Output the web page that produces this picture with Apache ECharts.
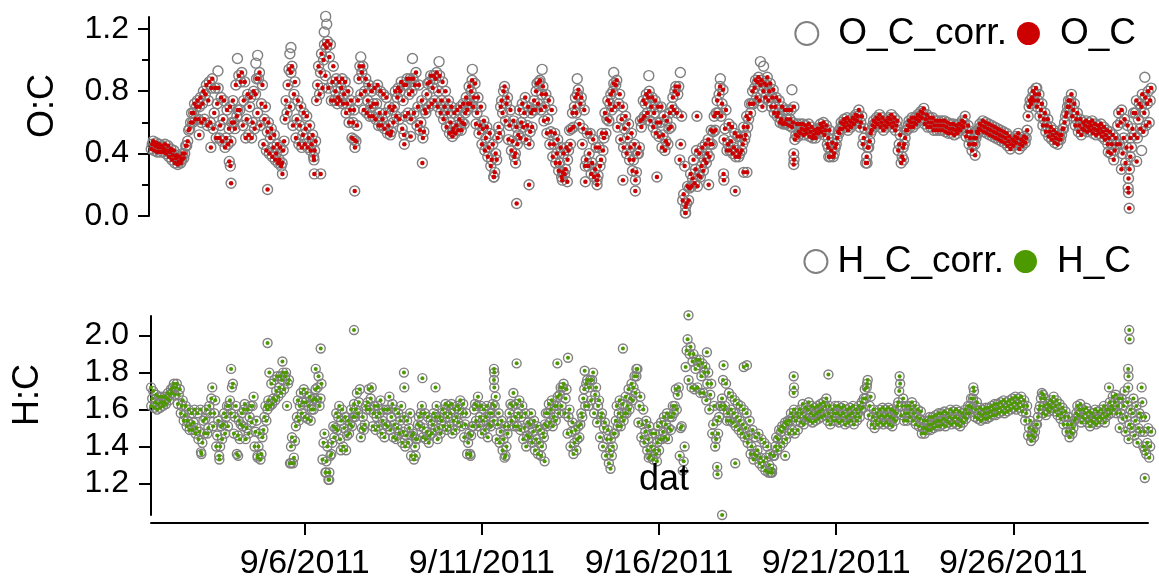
<!DOCTYPE html>
<html>
<head>
<meta charset="utf-8">
<script src="https://cdn.jsdelivr.net/npm/echarts@6/dist/echarts.min.js"></script>
<style>
  html, body { margin: 0; padding: 0; background: #fff; }
  #chart { width: 1159px; height: 582px; }
</style>
</head>
<body>
<div id="chart"></div>
<script>
// time is "day of September 2011" (6.5 = 9/6 12:00)
const START_DAY = 1 + 16 / 24; // first sample 9/1 16:00
const STEP = 2 / 24;           // one reading every 2 hours

// O:C, every 2 h, one row per day: low edge, typical value, high edge of the scatter
const ocLow = [
  0.43, 0.42, 0.41, 0.41, // 9/1 from 16:00
  0.41, 0.40, 0.38, 0.36, 0.34, 0.33, 0.34, 0.37, 0.45, 0.56, 0.60, 0.62, // 9/2
  0.62, 0.60, 0.62, 0.58, 0.60, 0.56, 0.50, 0.50, 0.48, 0.44, 0.46, 0.48, // 9/3
  0.60, 0.64, 0.68, 0.58, 0.50, 0.52, 0.50, 0.56, 0.66, 0.58, 0.46, 0.42, // 9/4
  0.40, 0.38, 0.36, 0.34, 0.32, 0.48, 0.66, 0.70, 0.58, 0.50, 0.46, 0.44, // 9/5
  0.46, 0.44, 0.42, 0.38, 0.74, 0.78, 0.82, 0.90, 0.82, 0.74, 0.74, 0.72, // 9/6
  0.74, 0.72, 0.66, 0.60, 0.50, 0.44, 0.74, 0.78, 0.68, 0.66, 0.64, 0.64, // 9/7
  0.62, 0.58, 0.58, 0.56, 0.53, 0.52, 0.60, 0.64, 0.62, 0.56, 0.64, 0.66, // 9/8
  0.62, 0.66, 0.58, 0.55, 0.50, 0.66, 0.70, 0.72, 0.74, 0.70, 0.66, 0.62, // 9/9
  0.57, 0.53, 0.51, 0.53, 0.55, 0.55, 0.59, 0.68, 0.72, 0.70, 0.59, 0.53, // 9/10
  0.46, 0.42, 0.38, 0.32, 0.25, 0.36, 0.53, 0.66, 0.61, 0.49, 0.42, 0.38, // 9/11
  0.46, 0.50, 0.57, 0.49, 0.46, 0.57, 0.68, 0.72, 0.68, 0.61, 0.53, 0.46, // 9/12
  0.38, 0.34, 0.29, 0.25, 0.27, 0.36, 0.46, 0.57, 0.66, 0.59, 0.46, 0.32, // 9/13
  0.32, 0.27, 0.25, 0.23, 0.32, 0.42, 0.53, 0.61, 0.68, 0.70, 0.57, 0.49, // 9/14
  0.44, 0.40, 0.36, 0.29, 0.23, 0.40, 0.57, 0.64, 0.66, 0.61, 0.57, 0.53, // 9/15
  0.51, 0.44, 0.42, 0.46, 0.57, 0.68, 0.66, 0.36, 0.10, 0.02, 0.10, 0.19, // 9/16
  0.21, 0.19, 0.25, 0.29, 0.34, 0.38, 0.46, 0.55, 0.66, 0.64, 0.49, 0.42, // 9/17
  0.42, 0.40, 0.38, 0.38, 0.42, 0.49, 0.57, 0.66, 0.72, 0.76, 0.74, 0.70, // 9/18
  0.76, 0.74, 0.70, 0.66, 0.64, 0.60, 0.59, 0.59, 0.58, 0.57, 0.49, 0.51, // 9/19
  0.53, 0.52, 0.53, 0.51, 0.50, 0.50, 0.53, 0.54, 0.52, 0.46, 0.38, 0.38, // 9/20
  0.46, 0.53, 0.56, 0.57, 0.55, 0.57, 0.59, 0.61, 0.57, 0.46, 0.34, 0.44, // 9/21
  0.55, 0.57, 0.59, 0.57, 0.55, 0.57, 0.59, 0.57, 0.55, 0.42, 0.34, 0.46, // 9/22
  0.55, 0.57, 0.57, 0.59, 0.61, 0.63, 0.59, 0.57, 0.57, 0.55, 0.55, 0.55, // 9/23
  0.55, 0.54, 0.53, 0.53, 0.52, 0.53, 0.55, 0.57, 0.51, 0.46, 0.42, 0.46, // 9/24
  0.53, 0.55, 0.54, 0.53, 0.52, 0.51, 0.50, 0.49, 0.48, 0.47, 0.45, 0.43, // 9/25
  0.45, 0.47, 0.43, 0.45, 0.47, 0.64, 0.72, 0.74, 0.70, 0.64, 0.58, 0.54, // 9/26
  0.51, 0.49, 0.47, 0.46, 0.49, 0.56, 0.66, 0.70, 0.64, 0.58, 0.54, 0.52, // 9/27
  0.55, 0.54, 0.55, 0.53, 0.52, 0.53, 0.51, 0.49, 0.46, 0.40, 0.36, 0.46, // 9/28
  0.46, 0.40, 0.34, 0.24, 0.44, 0.52, 0.50, 0.56, 0.54, 0.58, 0.60        // 9/29 to 20:00
];
const ocValues = [
  0.46, 0.45, 0.44, 0.44,
  0.43, 0.42, 0.41, 0.39, 0.37, 0.35, 0.36, 0.40, 0.48, 0.60, 0.66, 0.70,
  0.70, 0.72, 0.78, 0.74, 0.82, 0.66, 0.72, 0.58, 0.62, 0.50, 0.56, 0.60,
  0.56, 0.68, 0.86, 0.74, 0.62, 0.70, 0.60, 0.78, 0.88, 0.72, 0.62, 0.54,
  0.50, 0.44, 0.40, 0.36, 0.34, 0.62, 0.84, 0.92, 0.78, 0.62, 0.58, 0.52,
  0.56, 0.50, 0.46, 0.42, 0.84, 0.92, 1.00, 1.08, 1.02, 0.86, 0.80, 0.76,
  0.82, 0.78, 0.72, 0.68, 0.60, 0.48, 0.88, 0.92, 0.80, 0.74, 0.70, 0.72,
  0.72, 0.66, 0.62, 0.66, 0.58, 0.54, 0.70, 0.76, 0.80, 0.74, 0.84, 0.78,
  0.80, 0.84, 0.70, 0.60, 0.54, 0.78, 0.86, 0.82, 0.88, 0.80, 0.74, 0.70,
  0.66, 0.60, 0.56, 0.58, 0.62, 0.60, 0.66, 0.72, 0.80, 0.76, 0.66, 0.58,
  0.56, 0.50, 0.44, 0.36, 0.28, 0.50, 0.70, 0.80, 0.72, 0.58, 0.48, 0.40,
  0.52, 0.60, 0.66, 0.58, 0.54, 0.68, 0.80, 0.86, 0.78, 0.70, 0.62, 0.54,
  0.46, 0.40, 0.34, 0.28, 0.30, 0.42, 0.56, 0.70, 0.78, 0.72, 0.56, 0.36,
  0.40, 0.34, 0.30, 0.26, 0.36, 0.50, 0.62, 0.72, 0.80, 0.84, 0.72, 0.62,
  0.56, 0.50, 0.44, 0.36, 0.28, 0.44, 0.62, 0.72, 0.76, 0.70, 0.66, 0.60,
  0.60, 0.52, 0.48, 0.56, 0.70, 0.80, 0.78, 0.46, 0.14, 0.08, 0.18, 0.24,
  0.30, 0.26, 0.32, 0.36, 0.40, 0.46, 0.54, 0.66, 0.78, 0.72, 0.56, 0.46,
  0.48, 0.44, 0.42, 0.40, 0.46, 0.52, 0.62, 0.72, 0.82, 0.86, 0.84, 0.80,
  0.84, 0.80, 0.76, 0.70, 0.66, 0.62, 0.60, 0.62, 0.62, 0.60, 0.52, 0.54,
  0.56, 0.55, 0.56, 0.54, 0.52, 0.53, 0.56, 0.57, 0.55, 0.50, 0.42, 0.40,
  0.50, 0.56, 0.59, 0.60, 0.58, 0.60, 0.62, 0.64, 0.60, 0.50, 0.38, 0.48,
  0.58, 0.60, 0.62, 0.60, 0.58, 0.60, 0.62, 0.60, 0.58, 0.46, 0.38, 0.50,
  0.58, 0.60, 0.60, 0.62, 0.64, 0.66, 0.62, 0.60, 0.60, 0.58, 0.58, 0.58,
  0.58, 0.57, 0.56, 0.56, 0.55, 0.56, 0.58, 0.60, 0.54, 0.50, 0.46, 0.50,
  0.56, 0.58, 0.57, 0.56, 0.55, 0.54, 0.53, 0.52, 0.51, 0.50, 0.48, 0.46,
  0.48, 0.50, 0.46, 0.48, 0.50, 0.70, 0.76, 0.78, 0.74, 0.68, 0.62, 0.58,
  0.54, 0.52, 0.50, 0.49, 0.52, 0.60, 0.70, 0.74, 0.68, 0.62, 0.58, 0.56,
  0.58, 0.57, 0.58, 0.56, 0.55, 0.56, 0.54, 0.52, 0.50, 0.46, 0.42, 0.58,
  0.60, 0.50, 0.44, 0.30, 0.56, 0.66, 0.62, 0.70, 0.66, 0.72, 0.74
];
const ocHigh = [
  0.48, 0.47, 0.46, 0.45,
  0.46, 0.45, 0.43, 0.42, 0.39, 0.38, 0.40, 0.45, 0.55, 0.66, 0.72, 0.74,
  0.76, 0.80, 0.84, 0.86, 0.88, 0.82, 0.82, 0.76, 0.74, 0.68, 0.70, 0.74,
  0.84, 0.90, 0.92, 0.86, 0.78, 0.76, 0.80, 0.88, 0.92, 0.84, 0.70, 0.60,
  0.56, 0.52, 0.46, 0.44, 0.42, 0.74, 0.94, 0.96, 0.86, 0.74, 0.70, 0.66,
  0.64, 0.58, 0.52, 0.48, 0.96, 1.04, 1.10, 1.12, 1.10, 0.96, 0.88, 0.86,
  0.88, 0.86, 0.80, 0.74, 0.68, 0.58, 0.96, 0.96, 0.88, 0.84, 0.80, 0.82,
  0.84, 0.80, 0.78, 0.76, 0.70, 0.68, 0.80, 0.82, 0.86, 0.84, 0.88, 0.88,
  0.88, 0.92, 0.84, 0.74, 0.68, 0.85, 0.90, 0.90, 0.92, 0.90, 0.86, 0.80,
  0.74, 0.70, 0.66, 0.68, 0.70, 0.72, 0.76, 0.83, 0.87, 0.85, 0.76, 0.70,
  0.61, 0.57, 0.53, 0.46, 0.40, 0.57, 0.74, 0.83, 0.76, 0.68, 0.61, 0.57,
  0.68, 0.72, 0.76, 0.70, 0.66, 0.74, 0.85, 0.87, 0.83, 0.78, 0.74, 0.68,
  0.53, 0.49, 0.44, 0.40, 0.44, 0.55, 0.66, 0.76, 0.81, 0.76, 0.68, 0.53,
  0.53, 0.49, 0.44, 0.44, 0.53, 0.66, 0.74, 0.78, 0.85, 0.87, 0.78, 0.70,
  0.64, 0.59, 0.53, 0.46, 0.40, 0.61, 0.74, 0.78, 0.80, 0.76, 0.74, 0.70,
  0.70, 0.64, 0.61, 0.66, 0.76, 0.83, 0.83, 0.64, 0.32, 0.19, 0.27, 0.36,
  0.42, 0.40, 0.44, 0.46, 0.49, 0.55, 0.64, 0.74, 0.83, 0.81, 0.68, 0.59,
  0.57, 0.53, 0.51, 0.51, 0.57, 0.64, 0.72, 0.80, 0.87, 0.89, 0.87, 0.85,
  0.89, 0.85, 0.81, 0.76, 0.74, 0.70, 0.68, 0.68, 0.68, 0.70, 0.59, 0.59,
  0.59, 0.58, 0.59, 0.57, 0.55, 0.56, 0.59, 0.60, 0.58, 0.55, 0.47, 0.44,
  0.54, 0.60, 0.62, 0.63, 0.61, 0.63, 0.65, 0.68, 0.64, 0.56, 0.44, 0.53,
  0.61, 0.63, 0.65, 0.63, 0.61, 0.63, 0.65, 0.63, 0.61, 0.52, 0.44, 0.55,
  0.61, 0.63, 0.63, 0.65, 0.67, 0.69, 0.65, 0.63, 0.63, 0.61, 0.61, 0.61,
  0.61, 0.60, 0.59, 0.59, 0.58, 0.59, 0.61, 0.64, 0.58, 0.54, 0.50, 0.54,
  0.59, 0.61, 0.60, 0.59, 0.58, 0.57, 0.56, 0.55, 0.54, 0.53, 0.51, 0.49,
  0.51, 0.53, 0.49, 0.51, 0.55, 0.74, 0.80, 0.82, 0.78, 0.72, 0.66, 0.62,
  0.57, 0.55, 0.53, 0.52, 0.56, 0.64, 0.74, 0.78, 0.72, 0.66, 0.62, 0.60,
  0.61, 0.60, 0.61, 0.59, 0.58, 0.59, 0.57, 0.55, 0.54, 0.52, 0.50, 0.66,
  0.68, 0.62, 0.58, 0.50, 0.66, 0.74, 0.72, 0.78, 0.76, 0.80, 0.82
];

// isolated O:C points [day, value]
const ocOutliers = [
  [3.02, 0.52], [3.35, 0.44], [3.87, 0.35], [3.90, 0.32], [3.92, 0.21], [4.95, 0.17],
  [5.37, 0.27], [6.26, 0.36], [6.27, 0.27], [6.45, 0.27], [7.41, 0.16], [7.39, 0.49],
  [8.80, 0.52], [8.81, 0.46], [8.99, 0.51], [9.32, 0.34], [10.17, 0.54], [11.34, 0.25],
  [11.95, 0.34], [11.98, 0.08], [12.33, 0.20], [13.27, 0.23], [13.41, 0.22], [13.92, 0.22],
  [14.25, 0.20], [14.98, 0.23], [15.33, 0.16], [15.94, 0.25], [16.74, 0.02], [16.75, 0.06],
  [17.07, 0.64], [17.40, 0.20], [17.82, 0.27], [17.83, 0.23], [18.15, 0.16], [18.39, 0.28],
  [18.48, 0.28], [19.80, 0.40], [19.81, 0.36], [19.80, 0.33], [20.78, 0.44], [20.79, 0.38],
  [21.87, 0.34], [22.90, 0.36], [24.92, 0.39], [28.68, 0.41], [29.05, 0.30], [29.24, 0.18],
  [29.25, 0.15], [29.27, 0.05], [29.48, 0.35], [29.30, 0.38]
];

// corrected O:C points that stand above the uncorrected ones
const ocCorrHigh = [
  [3.55, 0.93], [4.10, 1.01], [4.62, 0.98], [4.67, 1.03], [5.58, 1.04], [5.61, 1.08],
  [6.55, 1.18], [6.59, 1.28], [6.62, 1.23], [7.58, 1.02], [9.04, 1.01], [9.79, 0.99],
  [10.73, 0.94], [12.70, 0.94], [13.69, 0.88], [14.72, 0.92], [15.71, 0.90], [16.60, 0.92],
  [17.73, 0.88], [18.86, 0.99], [18.95, 0.96], [19.75, 0.81], [26.66, 0.82], [29.71, 0.89],
  [29.62, 0.42]
];

// H:C, every 2 h, one row per day: low edge, typical value, high edge
const hcLow = [
  1.62, 1.61, 1.60, 1.61, // 9/1 from 16:00
  1.62, 1.63, 1.65, 1.69, 1.68, 1.63, 1.58, 1.54, 1.51, 1.49, 1.49, 1.47, // 9/2
  1.44, 1.36, 1.47, 1.47, 1.58, 1.51, 1.40, 1.35, 1.44, 1.47, 1.51, 1.58, // 9/3
  1.47, 1.36, 1.44, 1.51, 1.44, 1.47, 1.53, 1.40, 1.35, 1.33, 1.49, 1.54, // 9/4
  1.62, 1.63, 1.65, 1.67, 1.69, 1.71, 1.62, 1.31, 1.31, 1.51, 1.54, 1.58, // 9/5
  1.56, 1.55, 1.54, 1.60, 1.65, 1.62, 1.33, 1.26, 1.22, 1.36, 1.45, 1.49, // 9/6
  1.44, 1.40, 1.38, 1.47, 1.51, 1.56, 1.58, 1.45, 1.49, 1.60, 1.60, 1.51, // 9/7
  1.49, 1.51, 1.47, 1.45, 1.51, 1.49, 1.45, 1.44, 1.47, 1.42, 1.40, 1.42, // 9/8
  1.35, 1.33, 1.44, 1.51, 1.45, 1.44, 1.42, 1.47, 1.49, 1.44, 1.47, 1.51, // 9/9
  1.49, 1.51, 1.47, 1.49, 1.53, 1.51, 1.45, 1.36, 1.36, 1.51, 1.54, 1.51, // 9/10
  1.47, 1.49, 1.45, 1.51, 1.54, 1.44, 1.42, 1.38, 1.35, 1.51, 1.54, 1.51, // 9/11
  1.51, 1.49, 1.44, 1.40, 1.45, 1.42, 1.38, 1.36, 1.35, 1.45, 1.51, 1.53, // 9/12
  1.51, 1.54, 1.58, 1.62, 1.58, 1.47, 1.40, 1.36, 1.38, 1.45, 1.56, 1.62, // 9/13
  1.62, 1.65, 1.58, 1.53, 1.45, 1.40, 1.35, 1.31, 1.35, 1.47, 1.51, 1.51, // 9/14
  1.54, 1.58, 1.60, 1.65, 1.69, 1.53, 1.45, 1.42, 1.38, 1.35, 1.33, 1.36, // 9/15
  1.38, 1.44, 1.45, 1.44, 1.49, 1.58, 1.60, 1.35, 1.27, 1.83, 1.76, 1.72, // 9/16
  1.71, 1.72, 1.69, 1.69, 1.65, 1.60, 1.47, 1.40, 1.47, 1.62, 1.60, 1.54, // 9/17
  1.54, 1.53, 1.51, 1.49, 1.47, 1.45, 1.42, 1.36, 1.33, 1.35, 1.31, 1.29, // 9/18
  1.27, 1.26, 1.26, 1.35, 1.38, 1.40, 1.42, 1.44, 1.47, 1.49, 1.47, 1.49, // 9/19
  1.53, 1.52, 1.55, 1.54, 1.53, 1.54, 1.55, 1.56, 1.57, 1.54, 1.52, 1.54, // 9/20
  1.54, 1.53, 1.54, 1.52, 1.53, 1.54, 1.52, 1.54, 1.56, 1.61, 1.66, 1.57, // 9/21
  1.52, 1.50, 1.52, 1.53, 1.52, 1.53, 1.52, 1.51, 1.54, 1.64, 1.57, 1.54, // 9/22
  1.54, 1.56, 1.54, 1.52, 1.51, 1.47, 1.47, 1.49, 1.49, 1.50, 1.51, 1.51, // 9/23
  1.52, 1.51, 1.53, 1.52, 1.53, 1.52, 1.51, 1.53, 1.55, 1.58, 1.61, 1.56, // 9/24
  1.55, 1.54, 1.55, 1.55, 1.56, 1.57, 1.57, 1.58, 1.59, 1.58, 1.59, 1.60, // 9/25
  1.61, 1.60, 1.61, 1.59, 1.54, 1.46, 1.43, 1.45, 1.52, 1.62, 1.58, 1.57, // 9/26
  1.59, 1.61, 1.59, 1.57, 1.55, 1.52, 1.48, 1.45, 1.47, 1.55, 1.57, 1.53, // 9/27
  1.55, 1.53, 1.51, 1.53, 1.52, 1.53, 1.55, 1.53, 1.57, 1.58, 1.60, 1.58, // 9/28
  1.50, 1.55, 1.48, 1.44, 1.50, 1.46, 1.42, 1.48, 1.40, 1.36, 1.34        // 9/29 to 20:00
];
const hcValues = [
  1.66, 1.64, 1.63, 1.64,
  1.64, 1.66, 1.68, 1.72, 1.72, 1.68, 1.62, 1.57, 1.54, 1.52, 1.53, 1.50,
  1.48, 1.42, 1.55, 1.50, 1.66, 1.58, 1.46, 1.40, 1.52, 1.56, 1.62, 1.72,
  1.56, 1.46, 1.52, 1.60, 1.50, 1.56, 1.62, 1.48, 1.40, 1.36, 1.56, 1.60,
  1.62, 1.66, 1.70, 1.72, 1.76, 1.78, 1.74, 1.40, 1.34, 1.56, 1.62, 1.64,
  1.64, 1.62, 1.60, 1.66, 1.72, 1.66, 1.42, 1.32, 1.26, 1.42, 1.50, 1.56,
  1.54, 1.50, 1.46, 1.52, 1.56, 1.60, 1.64, 1.50, 1.52, 1.64, 1.66, 1.58,
  1.56, 1.58, 1.54, 1.52, 1.60, 1.56, 1.52, 1.50, 1.54, 1.48, 1.46, 1.50,
  1.46, 1.40, 1.52, 1.58, 1.50, 1.48, 1.46, 1.52, 1.56, 1.50, 1.54, 1.58,
  1.56, 1.58, 1.54, 1.56, 1.60, 1.58, 1.52, 1.42, 1.46, 1.60, 1.62, 1.56,
  1.54, 1.56, 1.52, 1.58, 1.62, 1.52, 1.48, 1.44, 1.40, 1.58, 1.62, 1.56,
  1.58, 1.56, 1.50, 1.46, 1.52, 1.48, 1.44, 1.42, 1.40, 1.52, 1.58, 1.60,
  1.56, 1.62, 1.68, 1.72, 1.66, 1.56, 1.48, 1.42, 1.44, 1.52, 1.66, 1.74,
  1.72, 1.76, 1.68, 1.62, 1.56, 1.50, 1.44, 1.38, 1.40, 1.54, 1.58, 1.56,
  1.58, 1.62, 1.66, 1.72, 1.78, 1.62, 1.52, 1.48, 1.44, 1.40, 1.38, 1.42,
  1.44, 1.48, 1.52, 1.50, 1.56, 1.62, 1.68, 1.50, 1.32, 1.92, 1.90, 1.86,
  1.82, 1.84, 1.78, 1.80, 1.74, 1.68, 1.52, 1.44, 1.56, 1.66, 1.62, 1.58,
  1.60, 1.58, 1.56, 1.54, 1.52, 1.50, 1.46, 1.40, 1.36, 1.38, 1.34, 1.32,
  1.34, 1.30, 1.28, 1.40, 1.44, 1.48, 1.50, 1.52, 1.54, 1.56, 1.54, 1.56,
  1.58, 1.56, 1.60, 1.58, 1.57, 1.58, 1.59, 1.60, 1.62, 1.58, 1.56, 1.58,
  1.58, 1.57, 1.58, 1.56, 1.57, 1.58, 1.56, 1.58, 1.60, 1.66, 1.72, 1.62,
  1.56, 1.54, 1.56, 1.57, 1.56, 1.57, 1.56, 1.55, 1.58, 1.70, 1.62, 1.58,
  1.58, 1.60, 1.58, 1.56, 1.55, 1.50, 1.50, 1.52, 1.52, 1.53, 1.54, 1.54,
  1.55, 1.54, 1.56, 1.55, 1.56, 1.55, 1.54, 1.56, 1.58, 1.62, 1.66, 1.60,
  1.58, 1.57, 1.58, 1.58, 1.59, 1.60, 1.60, 1.61, 1.62, 1.61, 1.62, 1.63,
  1.64, 1.63, 1.64, 1.62, 1.58, 1.50, 1.46, 1.48, 1.56, 1.66, 1.62, 1.60,
  1.62, 1.64, 1.62, 1.60, 1.58, 1.56, 1.52, 1.48, 1.50, 1.58, 1.60, 1.56,
  1.58, 1.56, 1.54, 1.56, 1.55, 1.56, 1.58, 1.56, 1.60, 1.62, 1.64, 1.62,
  1.58, 1.62, 1.56, 1.52, 1.58, 1.54, 1.50, 1.56, 1.48, 1.42, 1.40
];
const hcHigh = [
  1.70, 1.68, 1.67, 1.67,
  1.67, 1.69, 1.71, 1.74, 1.74, 1.71, 1.65, 1.62, 1.60, 1.58, 1.60, 1.58,
  1.60, 1.54, 1.60, 1.62, 1.72, 1.65, 1.54, 1.51, 1.58, 1.62, 1.65, 1.74,
  1.62, 1.54, 1.58, 1.63, 1.60, 1.62, 1.67, 1.54, 1.47, 1.45, 1.62, 1.65,
  1.74, 1.76, 1.78, 1.78, 1.80, 1.80, 1.76, 1.45, 1.43, 1.65, 1.69, 1.71,
  1.69, 1.67, 1.65, 1.71, 1.78, 1.74, 1.47, 1.40, 1.35, 1.51, 1.58, 1.62,
  1.60, 1.56, 1.54, 1.60, 1.63, 1.69, 1.71, 1.56, 1.62, 1.71, 1.72, 1.62,
  1.62, 1.65, 1.60, 1.60, 1.67, 1.63, 1.60, 1.58, 1.62, 1.56, 1.54, 1.58,
  1.47, 1.44, 1.56, 1.62, 1.58, 1.56, 1.54, 1.58, 1.62, 1.56, 1.60, 1.63,
  1.62, 1.63, 1.60, 1.62, 1.65, 1.63, 1.58, 1.47, 1.51, 1.63, 1.67, 1.62,
  1.60, 1.62, 1.58, 1.63, 1.67, 1.58, 1.54, 1.51, 1.47, 1.63, 1.69, 1.63,
  1.65, 1.62, 1.58, 1.53, 1.58, 1.54, 1.51, 1.49, 1.47, 1.58, 1.63, 1.65,
  1.62, 1.67, 1.72, 1.74, 1.71, 1.60, 1.53, 1.49, 1.51, 1.58, 1.71, 1.76,
  1.76, 1.80, 1.72, 1.65, 1.58, 1.53, 1.49, 1.44, 1.47, 1.62, 1.65, 1.63,
  1.67, 1.71, 1.74, 1.78, 1.82, 1.67, 1.60, 1.54, 1.51, 1.47, 1.47, 1.51,
  1.53, 1.56, 1.58, 1.56, 1.62, 1.71, 1.72, 1.51, 1.40, 1.98, 1.94, 1.90,
  1.87, 1.87, 1.85, 1.83, 1.80, 1.74, 1.62, 1.54, 1.62, 1.76, 1.74, 1.69,
  1.67, 1.65, 1.63, 1.62, 1.60, 1.58, 1.54, 1.49, 1.45, 1.47, 1.44, 1.42,
  1.40, 1.36, 1.35, 1.45, 1.49, 1.51, 1.53, 1.54, 1.58, 1.60, 1.58, 1.60,
  1.63, 1.61, 1.64, 1.62, 1.61, 1.62, 1.63, 1.64, 1.66, 1.62, 1.60, 1.62,
  1.62, 1.61, 1.62, 1.60, 1.61, 1.62, 1.60, 1.62, 1.64, 1.71, 1.76, 1.67,
  1.60, 1.58, 1.60, 1.61, 1.60, 1.61, 1.60, 1.59, 1.62, 1.74, 1.66, 1.62,
  1.62, 1.64, 1.62, 1.60, 1.59, 1.54, 1.54, 1.56, 1.56, 1.57, 1.58, 1.58,
  1.59, 1.58, 1.60, 1.59, 1.60, 1.59, 1.58, 1.60, 1.62, 1.66, 1.70, 1.64,
  1.61, 1.60, 1.61, 1.61, 1.62, 1.63, 1.63, 1.64, 1.65, 1.64, 1.65, 1.66,
  1.67, 1.66, 1.67, 1.65, 1.62, 1.54, 1.49, 1.52, 1.60, 1.69, 1.66, 1.63,
  1.65, 1.67, 1.65, 1.63, 1.61, 1.59, 1.56, 1.52, 1.54, 1.62, 1.63, 1.60,
  1.61, 1.59, 1.58, 1.60, 1.59, 1.60, 1.62, 1.60, 1.64, 1.67, 1.68, 1.66,
  1.66, 1.70, 1.64, 1.60, 1.66, 1.62, 1.58, 1.64, 1.56, 1.50, 1.48
];

// isolated H:C points [day, value]
const hcOutliers = [
  [1.66, 1.72], [3.07, 1.37], [3.59, 1.33], [3.92, 1.82], [4.12, 1.35], [4.67, 1.34],
  [4.95, 1.96], [5.00, 1.80], [5.37, 1.86], [5.61, 1.31], [6.31, 1.82], [6.45, 1.93],
  [6.60, 1.26], [6.69, 1.22], [7.02, 1.38], [7.39, 2.03], [8.80, 1.80], [8.81, 1.72],
  [9.13, 1.35], [9.32, 1.77], [9.69, 1.72], [10.68, 1.35], [11.34, 1.82], [11.35, 1.80],
  [11.34, 1.76], [11.35, 1.72], [11.64, 1.34], [11.98, 1.85], [12.77, 1.32], [13.13, 1.85],
  [13.43, 1.88], [13.90, 1.81], [14.63, 1.28], [14.98, 1.93], [15.36, 1.82], [15.71, 1.34],
  [15.94, 1.32], [16.83, 2.11], [17.35, 1.91], [17.64, 1.29], [17.65, 1.25], [17.78, 1.03],
  [17.82, 1.84], [18.15, 1.31], [18.39, 1.83], [18.48, 1.84], [19.14, 1.26], [19.19, 1.26],
  [19.56, 1.35], [19.80, 1.78], [19.81, 1.72], [19.80, 1.69], [20.78, 1.79], [21.87, 1.74],
  [22.79, 1.78], [24.87, 1.72], [26.84, 1.68], [28.70, 1.72], [29.27, 2.03], [29.28, 1.98],
  [29.24, 1.82], [29.25, 1.78], [29.24, 1.72], [29.62, 1.72], [29.71, 1.23], [29.71, 1.38]
];

const dayTicks = [6, 11, 16, 21, 26];
const ocTicks = [0, 0.4, 0.8, 1.2];
const ocMinorTicks = [0.2, 0.6, 1.0];
const hcTicks = [1.2, 1.4, 1.6, 1.8, 2.0];

const FONT = "Liberation Sans, Arial, sans-serif";
const GRAY = "#808080";
const RED = "#cc0000";
const GREEN = "#4c9900";

// the three readings of each 2-hour slot sit at start, +40 min and +80 min
function timed(low, mid, high) {
  const out = [];
  for (let i = 0; i < mid.length; i++) {
    const t = START_DAY + i * STEP;
    out.push([t, low[i]], [t + STEP / 3, mid[i]], [t + 2 * STEP / 3, high[i]]);
  }
  return out;
}

const ocData = timed(ocLow, ocValues, ocHigh).concat(ocOutliers);
const ocCorrData = ocData.concat(ocCorrHigh);
const hcData = timed(hcLow, hcValues, hcHigh).concat(hcOutliers);

const chart = echarts.init(document.getElementById("chart"), null, { renderer: "canvas" });

const black = { color: "#000", width: 2 };
const legendText = (pad) => ({ fontSize: 37, fontFamily: FONT, color: "#000", padding: [0, 0, 0, pad] });
const ring = { color: "rgba(255,255,255,0)", borderColor: GRAY, borderWidth: 1.4, opacity: 1 };

const option = {
  animation: false,
  backgroundColor: "#fff",
  grid: [
    { left: 151, right: 11, top: 17, height: 199 },
    { left: 151, right: 11, top: 316, height: 199 }
  ],
  xAxis: [
    { gridIndex: 0, type: "value", min: 1.66, max: 29.8, show: false },
    {
      gridIndex: 1, type: "value", min: 1.66, max: 29.8, offset: 8,
      axisLine: { lineStyle: black },
      axisTick: { customValues: dayTicks, length: 12, lineStyle: black },
      axisLabel: {
        customValues: dayTicks, margin: 24, fontSize: 34, fontFamily: FONT, color: "#000",
        formatter: (v) => "9/" + v + "/2011"
      },
      splitLine: { show: false }
    }
  ],
  yAxis: [
    {
      gridIndex: 0, type: "value", position: "left", min: 0, max: 1.276, offset: 2,
      axisLine: { show: true, lineStyle: black },
      axisTick: { show: true, customValues: ocTicks, length: 11, lineStyle: black },
      axisLabel: {
        customValues: ocTicks, margin: 20, fontSize: 32, fontFamily: FONT, color: "#000",
        formatter: (v) => v.toFixed(1)
      },
      splitLine: { show: false }
    },
    {
      gridIndex: 0, type: "value", position: "left", min: 0, max: 1.276, offset: 2,
      axisLine: { show: false },
      axisTick: { show: true, customValues: ocMinorTicks, length: 7, lineStyle: black },
      axisLabel: { show: false },
      splitLine: { show: false }
    },
    {
      gridIndex: 1, type: "value", position: "left", min: 1.03, max: 2.106,
      axisLine: { show: true, lineStyle: black },
      axisTick: { show: true, customValues: hcTicks, length: 12, lineStyle: black },
      axisLabel: {
        customValues: hcTicks, margin: 22, fontSize: 32, fontFamily: FONT, color: "#000",
        formatter: (v) => v.toFixed(1)
      },
      splitLine: { show: false }
    }
  ],
  legend: [
    {
      data: [
        { name: "O_C_corr.", textStyle: legendText(15) },
        { name: "O_C", textStyle: legendText(15) }
      ],
      right: 18, top: 10, icon: "circle", itemWidth: 23, itemHeight: 23, itemGap: 10,
      textStyle: legendText(15)
    },
    {
      data: [
        { name: "H_C_corr.", textStyle: legendText(5) },
        { name: "H_C", textStyle: legendText(15) }
      ],
      right: 23, top: 238, icon: "circle", itemWidth: 23, itemHeight: 23, itemGap: 10,
      textStyle: legendText(5)
    }
  ],
  series: [
    {
      name: "O_C_corr.", type: "scatter", xAxisIndex: 0, yAxisIndex: 0, clip: false,
      symbol: "circle", symbolSize: 10, data: ocCorrData, itemStyle: ring
    },
    {
      name: "O_C", type: "scatter", xAxisIndex: 0, yAxisIndex: 0, clip: false,
      symbol: "circle", symbolSize: 4.5, data: ocData, z: 3,
      itemStyle: { color: RED, opacity: 1 }
    },
    {
      name: "H_C_corr.", type: "scatter", xAxisIndex: 1, yAxisIndex: 2, clip: false,
      symbol: "circle", symbolSize: 9, data: hcData, itemStyle: ring
    },
    {
      name: "H_C", type: "scatter", xAxisIndex: 1, yAxisIndex: 2, clip: false,
      symbol: "circle", symbolSize: 4, data: hcData, z: 3,
      itemStyle: { color: GREEN, opacity: 1 }
    }
  ],
  graphic: [
    {
      type: "text", x: 43, y: 106, rotation: Math.PI / 2, z: 100,
      style: { text: "O:C", fontSize: 36, fontFamily: FONT, fill: "#000", align: "center", verticalAlign: "middle" }
    },
    {
      type: "text", x: 28, y: 395, rotation: Math.PI / 2, z: 100,
      style: { text: "H:C", fontSize: 36, fontFamily: FONT, fill: "#000", align: "center", verticalAlign: "middle" }
    },
    {
      type: "text", x: 664, y: 480, z: 100,
      style: { text: "dat", fontSize: 36, fontFamily: FONT, fill: "#000", align: "center", verticalAlign: "middle" }
    }
  ]
};

chart.setOption(option);
</script>
</body>
</html>
